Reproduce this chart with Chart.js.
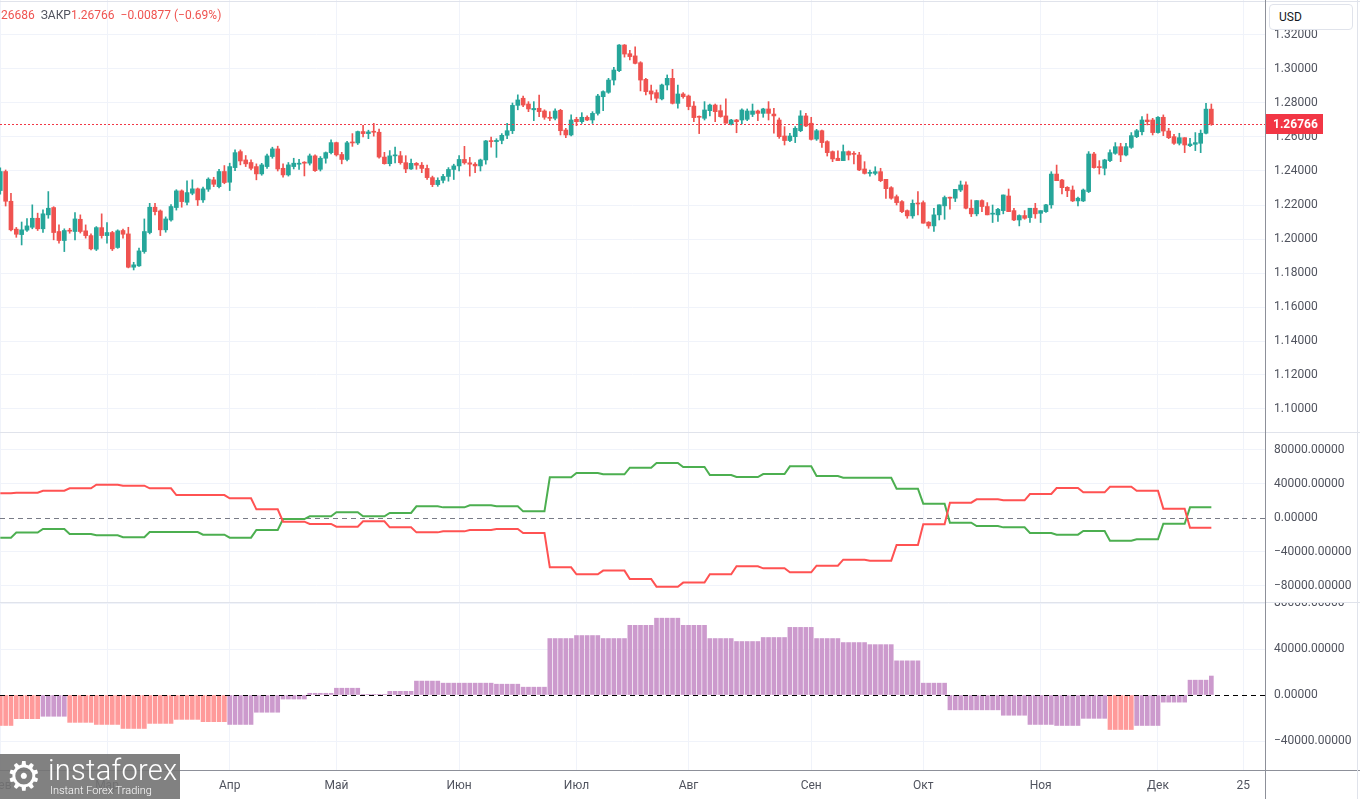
<!DOCTYPE html>
<html>
<head>
<meta charset="utf-8">
<script src="https://cdn.jsdelivr.net/npm/chart.js@4.4.1/dist/chart.umd.min.js"></script>
<style>
  body { margin: 0; background: #fff; width: 1360px; height: 799px; overflow: hidden; position: relative; font-family: Roboto, "Noto Sans", sans-serif; }
  canvas { position: absolute; left: 0; }
  #price { top: 0; }
  #cot { top: 433px; }
  #net { top: 603px; }
  .hline { position: absolute; left: 0; width: 1360px; height: 1px; background: #e0e3eb; }
  .vline { position: absolute; top: 0; width: 1px; height: 799px; background: #8d9099; }
  #hdr { position: absolute; left: 1px; top: 8px; font-size: 12px; color: #ef5350; white-space: pre; }
  #hdr .g { color: #50535e; }
  #usd { position: absolute; left: 1269px; top: 4px; width: 84px; height: 26px; box-sizing: border-box; border: 1px solid #e0e3eb; border-radius: 4px; background: #fff; font-size: 12px; color: #131722; line-height: 24px; padding-left: 9px; }
  #logo { position: absolute; left: 0; top: 754px; width: 180px; height: 45px; background: rgba(115,115,115,0.9); color: #fff; }
  #logo .gear { position: absolute; left: 6px; top: 0px; font-size: 40px; line-height: 44px; font-family: "DejaVu Sans"; }
  #logo .name { position: absolute; left: 48px; top: 0px; font-size: 29px; font-weight: 300; line-height: 32px; letter-spacing: 0.3px; }
  #logo .sub { position: absolute; left: 50px; top: 30px; font-size: 11px; font-weight: 300; line-height: 13px; }
</style>
</head>
<body>
<canvas id="price" width="1360" height="432"></canvas>
<canvas id="cot" width="1360" height="169"></canvas>
<canvas id="net" width="1360" height="196"></canvas>
<div class="hline" style="top:1px"></div>
<div class="hline" style="top:432px"></div>
<div class="hline" style="top:602px"></div>
<div class="hline" style="top:770px;background:#8d9099"></div>
<div class="vline" style="left:1265px"></div>
<div class="vline" style="left:1357px;background:#e0e3eb"></div>
<div id="hdr"><span>26686</span>  <span class="g">ЗАКР</span><span>1.26766</span>  <span>−0.00877 (−0.69%)</span></div>
<div id="usd">USD</div>
<div id="logo"><span class="gear">⚙</span><span class="name">instaforex</span><span class="sub">Instant Forex Trading</span></div>
<script>
// GBP/USD daily, weekdays from 1 Feb to 15 Dec (index 0 = 1 Feb)
const opens = [
  1.2285,1.2397,1.2222,1.2058,1.2026,1.2052,1.2069,1.2122,1.2060,1.2142,
  1.2185,1.2044,1.1991,1.2050,1.2044,1.2116,1.2048,1.2020,1.1940,1.2067,
  1.2020,1.2038,1.1950,1.2050,1.2030,1.1834,1.1842,1.1926,1.2038,1.2187,
  1.2165,1.2054,1.2112,1.2185,1.2283,1.2216,1.2269,1.2295,1.2230,1.2293,
  1.2348,1.2308,1.2397,1.2334,1.2420,1.2514,1.2465,1.2450,1.2426,1.2383,
  1.2426,1.2485,1.2530,1.2416,1.2377,1.2426,1.2440,1.2450,1.2446,1.2489,
  1.2410,1.2475,1.2508,1.2567,1.2497,1.2468,1.2566,1.2565,1.2632,1.2620,
  1.2630,1.2628,1.2482,1.2443,1.2489,1.2490,1.2449,1.2412,1.2445,1.2434,
  1.2415,1.2361,1.2320,1.2345,1.2368,1.2409,1.2430,1.2468,1.2448,1.2440,
  1.2430,1.2465,1.2577,1.2573,1.2580,1.2610,1.2637,1.2786,1.2828,1.2794,
  1.2760,1.2769,1.2753,1.2716,1.2710,1.2757,1.2641,1.2612,1.2704,1.2690,
  1.2716,1.2700,1.2739,1.2837,1.2863,1.2935,1.2990,1.3141,1.3090,1.3077,
  1.3037,1.2939,1.2871,1.2861,1.2824,1.2906,1.2945,1.2798,1.2853,1.2841,
  1.2782,1.2720,1.2710,1.2755,1.2788,1.2755,1.2724,1.2677,1.2700,1.2700,
  1.2704,1.2733,1.2753,1.2739,1.2765,1.2735,1.2700,1.2606,1.2579,1.2602,
  1.2637,1.2724,1.2681,1.2588,1.2637,1.2573,1.2514,1.2475,1.2461,1.2514,
  1.2504,1.2494,1.2412,1.2386,1.2386,1.2396,1.2351,1.2302,1.2249,1.2220,
  1.2167,1.2136,1.2210,1.2214,1.2099,1.2077,1.2142,1.2195,1.2244,1.2240,
  1.2288,1.2318,1.2181,1.2148,1.2226,1.2191,1.2146,1.2142,1.2167,1.2253,
  1.2167,1.2112,1.2138,1.2126,1.2181,1.2151,1.2161,1.2201,1.2382,1.2347,
  1.2304,1.2288,1.2224,1.2224,1.2279,1.2500,1.2422,1.2416,1.2461,1.2504,
  1.2543,1.2494,1.2539,1.2602,1.2631,1.2700,1.2700,1.2626,1.2716,1.2635,
  1.2602,1.2563,1.2596,1.2549,1.2557,1.2563,1.2622,1.2764
];
const highs = [
  1.2418,1.2406,1.2268,1.2068,1.2100,1.2120,1.2201,1.2152,1.2171,1.2279,
  1.2190,1.2083,1.2060,1.2063,1.2156,1.2142,1.2083,1.2030,1.2073,1.2148,
  1.2097,1.2045,1.2054,1.2058,1.2069,1.1863,1.1946,1.2118,1.2210,1.2210,
  1.2171,1.2130,1.2202,1.2290,1.2289,1.2342,1.2348,1.2300,1.2305,1.2360,
  1.2363,1.2410,1.2432,1.2446,1.2524,1.2524,1.2491,1.2465,1.2442,1.2445,
  1.2500,1.2540,1.2546,1.2442,1.2450,1.2475,1.2469,1.2455,1.2500,1.2495,
  1.2485,1.2512,1.2584,1.2570,1.2510,1.2575,1.2620,1.2635,1.2668,1.2640,
  1.2680,1.2647,1.2510,1.2520,1.2540,1.2515,1.2490,1.2470,1.2450,1.2450,
  1.2435,1.2370,1.2360,1.2380,1.2420,1.2440,1.2490,1.2545,1.2480,1.2450,
  1.2470,1.2580,1.2600,1.2590,1.2620,1.2680,1.2800,1.2848,1.2841,1.2808,
  1.2808,1.2847,1.2760,1.2749,1.2765,1.2763,1.2651,1.2730,1.2716,1.2743,
  1.2724,1.2749,1.2851,1.2871,1.2945,1.3010,1.3144,1.3144,1.3110,1.3131,
  1.3043,1.2945,1.2906,1.2877,1.2912,1.2965,1.2998,1.2906,1.2861,1.2847,
  1.2808,1.2724,1.2808,1.2794,1.2794,1.2788,1.2824,1.2704,1.2704,1.2765,
  1.2765,1.2794,1.2759,1.2769,1.2808,1.2769,1.2712,1.2661,1.2622,1.2661,
  1.2755,1.2739,1.2716,1.2645,1.2640,1.2578,1.2518,1.2518,1.2553,1.2518,
  1.2514,1.2510,1.2455,1.2406,1.2425,1.2416,1.2351,1.2308,1.2259,1.2226,
  1.2171,1.2230,1.2279,1.2224,1.2102,1.2181,1.2201,1.2253,1.2246,1.2292,
  1.2341,1.2337,1.2230,1.2226,1.2230,1.2214,1.2200,1.2181,1.2259,1.2294,
  1.2181,1.2142,1.2167,1.2181,1.2210,1.2167,1.2204,1.2396,1.2435,1.2351,
  1.2308,1.2312,1.2246,1.2294,1.2514,1.2510,1.2461,1.2469,1.2524,1.2567,
  1.2563,1.2563,1.2626,1.2645,1.2720,1.2735,1.2710,1.2720,1.2730,1.2651,
  1.2616,1.2622,1.2596,1.2592,1.2626,1.2641,1.2798,1.2794
];
const lows = [
  1.2264,1.2194,1.2048,1.2010,1.1965,1.2045,1.2060,1.2050,1.2038,1.2122,
  1.1995,1.1975,1.1926,1.2034,1.1995,1.2035,1.2005,1.1936,1.1932,1.2005,
  1.1975,1.1932,1.1945,1.2005,1.1830,1.1818,1.1838,1.1916,1.2030,1.2142,
  1.2020,1.2040,1.2105,1.2170,1.2187,1.2200,1.2260,1.2197,1.2215,1.2280,
  1.2308,1.2300,1.2325,1.2285,1.2402,1.2436,1.2426,1.2406,1.2348,1.2375,
  1.2415,1.2475,1.2400,1.2363,1.2370,1.2412,1.2410,1.2371,1.2435,1.2397,
  1.2400,1.2446,1.2500,1.2488,1.2442,1.2460,1.2545,1.2556,1.2600,1.2590,
  1.2605,1.2475,1.2440,1.2430,1.2448,1.2440,1.2390,1.2410,1.2410,1.2390,
  1.2350,1.2308,1.2310,1.2330,1.2340,1.2350,1.2400,1.2440,1.2370,1.2390,
  1.2400,1.2440,1.2540,1.2480,1.2560,1.2590,1.2620,1.2760,1.2779,1.2749,
  1.2696,1.2720,1.2704,1.2696,1.2700,1.2612,1.2596,1.2606,1.2667,1.2680,
  1.2696,1.2680,1.2729,1.2755,1.2857,1.2906,1.2985,1.3070,1.3053,1.3030,
  1.2871,1.2847,1.2818,1.2802,1.2818,1.2877,1.2794,1.2769,1.2828,1.2760,
  1.2690,1.2620,1.2700,1.2724,1.2690,1.2716,1.2681,1.2671,1.2625,1.2677,
  1.2696,1.2720,1.2696,1.2716,1.2700,1.2622,1.2592,1.2553,1.2573,1.2567,
  1.2631,1.2661,1.2582,1.2580,1.2539,1.2488,1.2455,1.2461,1.2461,1.2465,
  1.2441,1.2402,1.2382,1.2370,1.2377,1.2337,1.2239,1.2234,1.2200,1.2155,
  1.2122,1.2122,1.2142,1.2093,1.2063,1.2044,1.2112,1.2116,1.2175,1.2220,
  1.2279,1.2177,1.2132,1.2136,1.2161,1.2142,1.2097,1.2103,1.2148,1.2161,
  1.2108,1.2077,1.2116,1.2097,1.2122,1.2097,1.2157,1.2181,1.2343,1.2265,
  1.2249,1.2220,1.2194,1.2220,1.2273,1.2416,1.2382,1.2377,1.2455,1.2498,
  1.2455,1.2488,1.2533,1.2596,1.2612,1.2671,1.2612,1.2622,1.2608,1.2590,
  1.2557,1.2553,1.2508,1.2543,1.2520,1.2508,1.2618,1.26686
];
const closes = [
  1.2397,1.2222,1.2054,1.2028,1.2054,1.2077,1.2122,1.2060,1.2148,1.2181,
  1.2038,1.1991,1.2050,1.2046,1.2118,1.2044,1.2020,1.1942,1.2067,1.2020,
  1.2038,1.1942,1.2048,1.2028,1.1834,1.1848,1.1930,1.2044,1.2187,1.2161,
  1.2054,1.2118,1.2191,1.2283,1.2220,1.2273,1.2295,1.2230,1.2295,1.2352,
  1.2322,1.2397,1.2332,1.2426,1.2508,1.2459,1.2442,1.2416,1.2383,1.2436,
  1.2489,1.2530,1.2412,1.2377,1.2436,1.2446,1.2446,1.2446,1.2489,1.2402,
  1.2475,1.2508,1.2567,1.2495,1.2468,1.2566,1.2565,1.2632,1.2620,1.2630,
  1.2628,1.2482,1.2443,1.2489,1.2490,1.2449,1.2412,1.2445,1.2434,1.2415,
  1.2361,1.2320,1.2345,1.2368,1.2409,1.2430,1.2468,1.2448,1.2440,1.2430,
  1.2465,1.2577,1.2573,1.2580,1.2610,1.2637,1.2786,1.2818,1.2788,1.2765,
  1.2768,1.2749,1.2716,1.2710,1.2753,1.2637,1.2612,1.2700,1.2690,1.2716,
  1.2700,1.2739,1.2841,1.2867,1.2935,1.2994,1.3141,1.3088,1.3073,1.3033,
  1.2935,1.2867,1.2853,1.2828,1.2906,1.2945,1.2798,1.2853,1.2837,1.2779,
  1.2714,1.2716,1.2759,1.2788,1.2749,1.2720,1.2681,1.2700,1.2690,1.2759,
  1.2753,1.2753,1.2739,1.2765,1.2739,1.2724,1.2602,1.2579,1.2606,1.2651,
  1.2724,1.2665,1.2586,1.2637,1.2567,1.2508,1.2471,1.2461,1.2514,1.2494,
  1.2498,1.2406,1.2386,1.2392,1.2396,1.2343,1.2296,1.2240,1.2214,1.2161,
  1.2136,1.2210,1.2206,1.2093,1.2077,1.2142,1.2201,1.2244,1.2240,1.2292,
  1.2318,1.2181,1.2148,1.2226,1.2191,1.2142,1.2148,1.2175,1.2259,1.2161,
  1.2112,1.2138,1.2122,1.2181,1.2148,1.2167,1.2201,1.2382,1.2343,1.2302,
  1.2284,1.2224,1.2240,1.2288,1.2500,1.2420,1.2420,1.2465,1.2508,1.2543,
  1.2494,1.2543,1.2608,1.2637,1.2700,1.2690,1.2626,1.2716,1.2635,1.2596,
  1.2563,1.2596,1.2553,1.2559,1.2567,1.2622,1.2764,1.26766
];

// weekly net positions (one value per week, week 0 = 1-3 Feb)
const greenNet = [
  -23100,-17200,-12900,-18800,-20400,-22700,-16500,-16500,-19600,-23100,
  -14100,-1200,2000,6700,2000,5900,13700,12500,14900,13700,
  7800,47800,52900,51400,59200,64700,60000,50600,48200,51700,
  60800,49400,47400,47400,34500,16900,-5500,-9400,-11000,-17600,
  -19600,-15300,-26700,-25100,-6700,12500
];
const redNet = [
  29000,29800,32100,34900,39200,38000,34900,27000,27000,23100,
  10200,-4300,-7000,-10200,-3900,-11000,-16900,-15700,-14100,-12900,
  -17600,-58000,-66200,-61900,-71700,-80800,-76000,-66200,-56800,-59200,
  -63900,-56100,-49000,-50200,-31800,-7400,18000,22000,20800,28200,
  35300,30200,36800,32100,11000,-11400
];
const histWeekly = [
  -26500,-20600,-18500,-23800,-25600,-29100,-24700,-21200,-23200,-25600,
  -15000,-3500,1500,5900,600,3200,12100,10300,10300,9400,
  6800,49100,51700,49100,60600,66800,60600,49100,46500,50000,
  58800,49100,45600,43800,29700,10300,-12900,-12900,-17600,-25600,
  -26500,-20300,-30000,-26500,-6200,12900
];
const histLastDay = 16500;
const histFallingWeeks = [0, 1, 3, 4, 5, 6, 7, 8, 42];

// x axis: month starts (trading-day index) and labels
const tickIdx = [0, 20, 43, 63, 86, 108, 129, 152, 173, 195, 217, 233];
const tickLabels = ['Фев', 'Мар', 'Апр', 'Май', 'Июн', 'Июл', 'Авг', 'Сен', 'Окт', 'Ноя', 'Дек', '25'];
const priceTicks = [1.10, 1.12, 1.14, 1.16, 1.18, 1.20, 1.22, 1.24, 1.26, 1.28, 1.30, 1.32];
const cotTicks = [-80000, -40000, 0, 40000, 80000];
const netTicks = [-40000, 0, 40000, 80000];

Chart.defaults.font.family = 'Roboto, "Noto Sans", sans-serif';
Chart.defaults.font.size = 12;
Chart.defaults.color = '#50535e';

const BAR_W = 5.335;
const X_MIN = -0.3 / BAR_W;
const X_MAX = X_MIN + 1265 / BAR_W;
const GRID = '#f0f3fa';

const weekOf = i => Math.floor((i + 2) / 5);
const days = closes.map((c, i) => i);

// scales must not push the plot area inwards
function noPad(s) {
  s.paddingTop = 0; s.paddingBottom = 0; s.paddingLeft = 0; s.paddingRight = 0;
}

function xScale(showLabels) {
  return {
    type: 'linear', min: X_MIN, max: X_MAX, offset: false,
    afterBuildTicks: s => { s.ticks = tickIdx.map(v => ({ value: v })); },
    afterFit: s => { s.height = showLabels ? 29 : 0; noPad(s); },
    grid: { color: GRID, drawTicks: false, offset: false },
    border: { display: false },
    ticks: {
      display: showLabels, autoSkip: false, maxRotation: 0, padding: 9,
      callback: (v, idx) => tickLabels[idx]
    }
  };
}

function yScale(min, max, vals, fmt) {
  return {
    position: 'right', min: min, max: max,
    afterBuildTicks: s => { s.ticks = vals.map(v => ({ value: v })); },
    afterFit: s => { s.width = 95; noPad(s); },
    grid: { color: c => (c.tick && c.tick.value === 0 && vals !== priceTicks) ? 'rgba(0,0,0,0)' : GRID, drawTicks: false },
    border: { display: false },
    ticks: { padding: 9, callback: fmt }
  };
}

const volFmt = v => (v < 0 ? '\u2212' : '') + Math.abs(v).toFixed(5);

function zeroLine(color, dash, before) {
  const draw = chart => {
    const { ctx, chartArea: a, scales: { y } } = chart;
    const py = Math.round(y.getPixelForValue(0)) + 0.5;
    ctx.save();
    ctx.strokeStyle = color; ctx.lineWidth = 1; ctx.setLineDash(dash);
    ctx.beginPath(); ctx.moveTo(a.left, py); ctx.lineTo(a.right, py); ctx.stroke();
    ctx.restore();
  };
  return before ? { id: 'zero', beforeDatasetsDraw: draw } : { id: 'zero', afterDatasetsDraw: draw };
}

const lastPrice = {
  id: 'lastPrice',
  afterDraw(chart) {
    const { ctx, chartArea: a, scales: { y } } = chart;
    const last = closes[closes.length - 1];
    const py = Math.round(y.getPixelForValue(last)) + 0.5;
    ctx.save();
    ctx.strokeStyle = '#f23645'; ctx.lineWidth = 1; ctx.setLineDash([2, 2]);
    ctx.beginPath(); ctx.moveTo(a.left, py); ctx.lineTo(a.right, py); ctx.stroke();
    ctx.setLineDash([]);
    ctx.fillStyle = '#f23645';
    ctx.fillRect(a.right + 1, py - 10.5, 57, 20);
    ctx.fillStyle = '#fff';
    ctx.font = 'bold 12px Roboto, sans-serif';
    ctx.textBaseline = 'middle';
    ctx.fillText(last.toFixed(5), a.right + 8, py + 0.5);
    ctx.restore();
  }
};

const common = {
  responsive: false, animation: false, devicePixelRatio: 1,
  layout: { padding: 0, autoPadding: false },
  plugins: { legend: { display: false }, tooltip: { enabled: false } }
};

// price pane
const candleColor = closes.map((c, i) => c >= opens[i] ? '#26a69a' : '#ef5350');
new Chart(document.getElementById('price'), {
  type: 'bar',
  data: {
    datasets: [
      {
        data: days.map(i => ({ x: i, y: [lows[i], highs[i]] })),
        backgroundColor: candleColor, barThickness: 1, grouped: false
      },
      {
        data: days.map(i => ({ x: i, y: [opens[i], closes[i]] })),
        backgroundColor: candleColor, barThickness: 4, minBarLength: 1, grouped: false
      }
    ]
  },
  options: Object.assign({}, common, {
    scales: {
      x: xScale(false),
      y: yScale(1.30 - 363 / 1700, 1.30 + 69 / 1700, priceTicks, v => v.toFixed(5))
    }
  }),
  plugins: [lastPrice]
});

// net positions pane (two lines)
new Chart(document.getElementById('cot'), {
  type: 'line',
  data: {
    datasets: [
      {
        data: days.map(i => ({ x: i, y: redNet[weekOf(i)] })),
        borderColor: '#ff5252', borderWidth: 2, pointRadius: 0, tension: 0
      },
      {
        data: days.map(i => ({ x: i, y: greenNet[weekOf(i)] })),
        borderColor: '#4caf50', borderWidth: 2, pointRadius: 0, tension: 0
      }
    ]
  },
  options: Object.assign({}, common, {
    scales: {
      x: xScale(false),
      y: yScale(-98824, 100000, cotTicks, volFmt)
    }
  }),
  plugins: [zeroLine('#787b86', [5, 4], true)]
});

// histogram pane
const histValues = days.map(i => i === days.length - 1 ? histLastDay : histWeekly[weekOf(i)]);
const histColors = days.map(i => histFallingWeeks.includes(weekOf(i)) ? '#ff9a9a' : '#cc9acd');
new Chart(document.getElementById('net'), {
  type: 'bar',
  data: {
    datasets: [{
      data: days.map(i => ({ x: i, y: histValues[i] })),
      backgroundColor: histColors, barThickness: 4
    }]
  },
  options: Object.assign({}, common, {
    scales: {
      x: xScale(true),
      y: yScale(-65217, 80000, netTicks, volFmt)
    }
  }),
  plugins: [zeroLine('#000', [5, 4], false)]
});
</script>
</body>
</html>
